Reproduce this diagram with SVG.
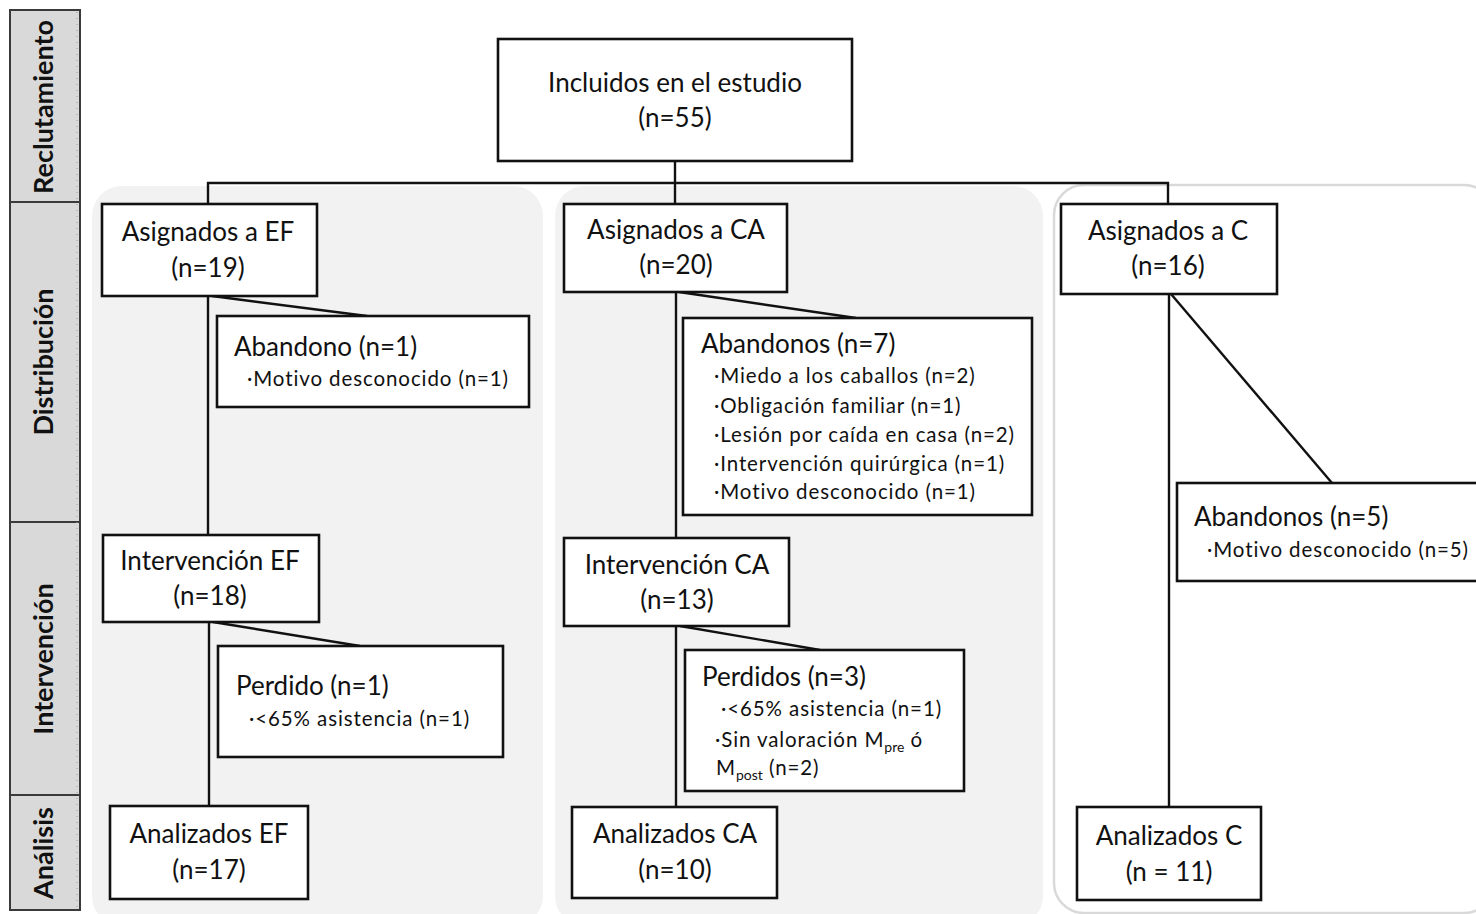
<svg xmlns="http://www.w3.org/2000/svg" width="1476" height="914" viewBox="0 0 1476 914">
  <style>
    .bg { fill: #ffffff; }
    .stage { fill: #d9d9d9; stroke: #3a3a3a; stroke-width: 2; }
    .stage-dots { stroke: #9a9a9a; stroke-width: 1; stroke-dasharray: 1 5; }
    .stage-label { font-family: "Lato", "Open Sans", sans-serif; font-weight: bold; font-size: 27px; fill: #111; text-anchor: middle; }
    .panel { fill: #f2f2f2; }
    .panel-open { fill: #ffffff; stroke: #d9d9d9; stroke-width: 2.5; }
    .box { fill: #ffffff; stroke: #111; stroke-width: 2.6; }
    .link { stroke: #111; stroke-width: 2.4; fill: none; }
    .t { font-family: "Lato", "Open Sans", sans-serif; font-size: 26px; fill: #111; }
    .c { text-anchor: middle; }
    .s { font-family: "Lato", "Open Sans", sans-serif; font-size: 20.5px; fill: #111; letter-spacing: 0.9px; }
  </style>

  <rect class="bg" x="0" y="0" width="1476" height="914"/>

  <!-- stage column -->
  <g id="stages">
    <rect class="stage" x="10" y="10" width="70" height="192"/>
    <rect class="stage" x="10" y="202" width="70" height="320"/>
    <rect class="stage" x="10" y="522" width="70" height="273"/>
    <rect class="stage" x="10" y="795" width="70" height="115"/>
    <line class="stage-dots" x1="77" y1="12" x2="77" y2="908"/>
    <text class="stage-label" transform="translate(53,107) rotate(-90)">Reclutamiento</text>
    <text class="stage-label" transform="translate(53,362) rotate(-90)">Distribución</text>
    <text class="stage-label" transform="translate(53,659) rotate(-90)">Intervención</text>
    <text class="stage-label" transform="translate(53,853) rotate(-90)">Análisis</text>
  </g>

  <!-- group panels -->
  <g id="panels">
    <rect class="panel" x="92" y="186" width="451" height="740" rx="30" ry="30"/>
    <rect class="panel" x="555" y="186" width="488" height="740" rx="30" ry="30"/>
    <rect class="panel-open" x="1054" y="185" width="440" height="728" rx="30" ry="30"/>
  </g>

  <!-- connectors -->
  <g id="connectors">
    <line class="link" x1="675" y1="161" x2="675" y2="204"/>
    <line class="link" x1="207" y1="183" x2="1169" y2="183"/>
    <line class="link" x1="208" y1="182" x2="208" y2="204"/>
    <line class="link" x1="1168" y1="182" x2="1168" y2="204"/>

    <line class="link" x1="208" y1="296" x2="208" y2="535"/>
    <line class="link" x1="212" y1="296" x2="367" y2="316"/>
    <line class="link" x1="209" y1="622" x2="209" y2="806"/>
    <line class="link" x1="213" y1="622" x2="360" y2="646"/>

    <line class="link" x1="676" y1="292" x2="676" y2="538"/>
    <line class="link" x1="679" y1="292" x2="856" y2="318"/>
    <line class="link" x1="676" y1="626" x2="676" y2="807"/>
    <line class="link" x1="680" y1="626" x2="820" y2="650"/>

    <line class="link" x1="1169" y1="294" x2="1169" y2="807"/>
    <line class="link" x1="1171" y1="294" x2="1332" y2="483"/>
  </g>

  <g id="incluidos">
    <rect class="box" x="498" y="39" width="354" height="122"/>
    <text class="t c" x="675" y="92">Incluidos en el estudio</text>
    <text class="t c" x="675" y="127">(n=55)</text>
  </g>

  <!-- EF branch -->
  <g id="asignados-ef">
    <rect class="box" x="102" y="204" width="215" height="92"/>
    <text class="t c" x="208" y="241">Asignados a EF</text>
    <text class="t c" x="208" y="277">(n=19)</text>
  </g>
  <g id="abandono-ef">
    <rect class="box" x="217" y="316" width="312" height="91"/>
    <text class="t" x="234" y="356">Abandono (n=1)</text>
    <text class="s" x="247" y="386">·Motivo desconocido (n=1)</text>
  </g>
  <g id="intervencion-ef">
    <rect class="box" x="103" y="535" width="216" height="87"/>
    <text class="t c" x="210" y="570">Intervención EF</text>
    <text class="t c" x="210" y="605">(n=18)</text>
  </g>
  <g id="perdido-ef">
    <rect class="box" x="218" y="646" width="285" height="111"/>
    <text class="t" x="236" y="695">Perdido (n=1)</text>
    <text class="s" x="249" y="726">·&lt;65% asistencia (n=1)</text>
  </g>
  <g id="analizados-ef">
    <rect class="box" x="110" y="806" width="198" height="93"/>
    <text class="t c" x="209" y="843">Analizados EF</text>
    <text class="t c" x="209" y="879">(n=17)</text>
  </g>

  <!-- CA branch -->
  <g id="asignados-ca">
    <rect class="box" x="564" y="204" width="223" height="88"/>
    <text class="t c" x="676" y="239">Asignados a CA</text>
    <text class="t c" x="676" y="274">(n=20)</text>
  </g>
  <g id="abandonos-ca">
    <rect class="box" x="683" y="318" width="349" height="197"/>
    <text class="t" x="701" y="353">Abandonos (n=7)</text>
    <text class="s" x="714" y="383">·Miedo a los caballos (n=2)</text>
    <text class="s" x="714" y="413">·Obligación familiar (n=1)</text>
    <text class="s" x="714" y="442">·Lesión por caída en casa (n=2)</text>
    <text class="s" x="714" y="471">·Intervención quirúrgica (n=1)</text>
    <text class="s" x="714" y="499">·Motivo desconocido (n=1)</text>
  </g>
  <g id="intervencion-ca">
    <rect class="box" x="564" y="538" width="225" height="88"/>
    <text class="t c" x="677" y="574">Intervención CA</text>
    <text class="t c" x="677" y="609">(n=13)</text>
  </g>
  <g id="perdidos-ca">
    <rect class="box" x="685" y="650" width="279" height="141"/>
    <text class="t" x="702" y="686">Perdidos (n=3)</text>
    <text class="s" x="721" y="716">·&lt;65% asistencia (n=1)</text>
    <text class="s" x="715" y="747">·Sin valoración M<tspan font-size="14" dy="5" letter-spacing="0">pre</tspan><tspan dy="-5"> ó</tspan></text>
    <text class="s" x="716" y="775">M<tspan font-size="14" dy="5" letter-spacing="0">post</tspan><tspan dy="-5"> (n=2)</tspan></text>
  </g>
  <g id="analizados-ca">
    <rect class="box" x="572" y="807" width="205" height="91"/>
    <text class="t c" x="675" y="843">Analizados CA</text>
    <text class="t c" x="675" y="879">(n=10)</text>
  </g>

  <!-- C branch -->
  <g id="asignados-c">
    <rect class="box" x="1061" y="204" width="216" height="90"/>
    <text class="t c" x="1168" y="240">Asignados a C</text>
    <text class="t c" x="1168" y="275">(n=16)</text>
  </g>
  <g id="abandonos-c">
    <rect class="box" x="1177" y="483" width="310" height="98"/>
    <text class="t" x="1194" y="526">Abandonos (n=5)</text>
    <text class="s" x="1207" y="557">·Motivo desconocido (n=5)</text>
  </g>
  <g id="analizados-c">
    <rect class="box" x="1077" y="807" width="184" height="93"/>
    <text class="t c" x="1169" y="845">Analizados C</text>
    <text class="t c" x="1169" y="881">(n = 11)</text>
  </g>
</svg>
